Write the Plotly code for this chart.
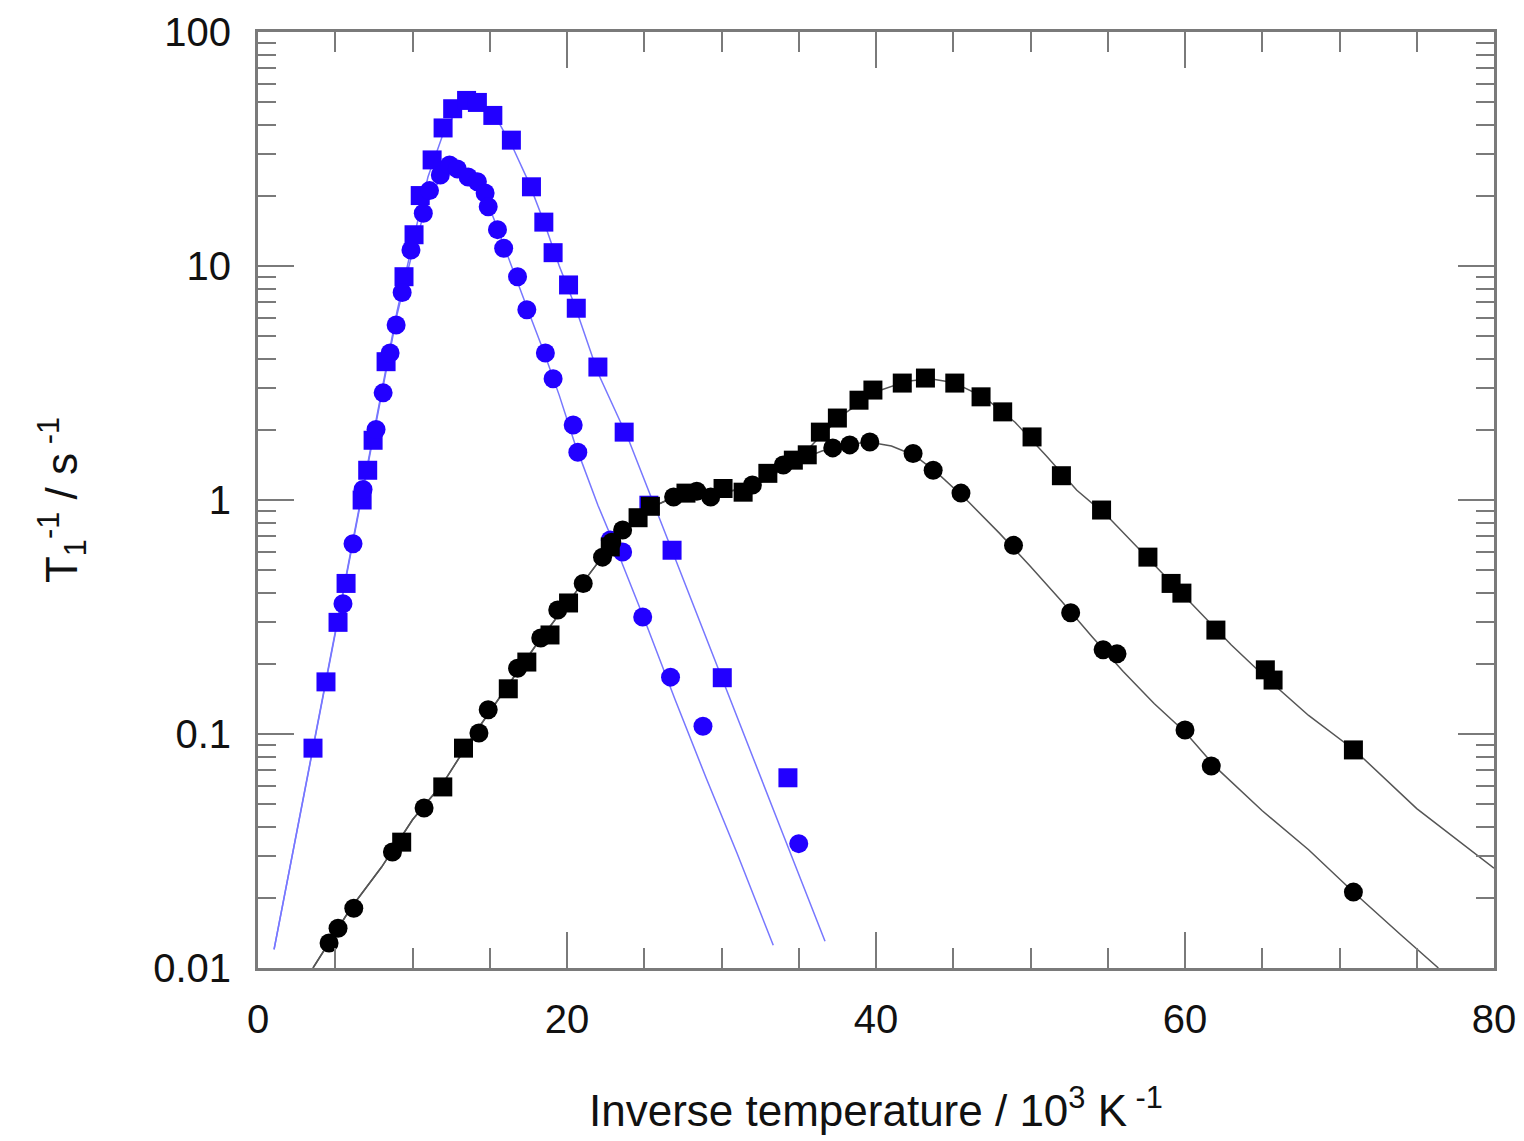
import plotly.graph_objects as go

# ---- data ----
blue_sq_x = [3.56, 4.4, 5.18, 5.7, 6.74, 7.1, 7.45, 8.29, 9.45, 10.1, 10.5, 11.27, 11.98, 12.6, 13.5, 14.2,
             15.2, 16.4, 17.7, 18.5, 19.1, 20.1, 20.6, 22.0, 23.7, 25.3, 26.8, 30.05, 34.3]
blue_sq_y = [0.087, 0.167, 0.30, 0.44, 1.0, 1.34, 1.8, 3.9, 9.0, 13.6, 20, 28.4, 38.9, 47, 51, 50,
             44, 34.5, 21.8, 15.4, 11.4, 8.3, 6.6, 3.7, 1.95, 0.95, 0.61, 0.174, 0.065]

blue_ci_x = [5.5, 6.15, 6.8, 7.64, 8.1, 8.55, 8.94, 9.33, 9.9, 10.7, 11.1, 11.8, 12.4, 12.9, 13.6, 14.2,
             14.7, 14.9, 15.5, 15.9, 16.8, 17.4, 18.6, 19.1, 20.4, 20.7, 22.8, 23.6, 24.9, 26.7, 28.8, 35.0]
blue_ci_y = [0.36, 0.65, 1.11, 2.0, 2.87, 4.25, 5.6, 7.7, 11.7, 16.8, 21, 24.5, 27, 26, 24, 22.9,
             20.5, 17.9, 14.3, 11.9, 9.0, 6.5, 4.25, 3.3, 2.09, 1.6, 0.675, 0.60, 0.316, 0.175, 0.108, 0.034]

black_sq_x = [9.3, 11.96, 13.3, 16.2, 17.4, 18.9, 20.1, 22.8, 24.6, 25.4, 27.7, 30.1, 31.4, 33.0, 34.65,
              35.55, 36.4, 37.5, 38.9, 39.8, 41.7, 43.2, 45.1, 46.8, 48.2, 50.1, 52.0, 54.6, 57.6, 59.1,
              59.8, 62.0, 65.2, 65.7, 70.9]
black_sq_y = [0.0345, 0.0594, 0.087, 0.156, 0.203, 0.265, 0.363, 0.63, 0.84, 0.94, 1.07, 1.12, 1.08, 1.30, 1.48,
              1.56, 1.95, 2.24, 2.67, 2.95, 3.16, 3.32, 3.16, 2.76, 2.38, 1.86, 1.27, 0.906, 0.57, 0.44,
              0.40, 0.278, 0.188, 0.17, 0.0855]

black_ci_x = [4.6, 5.18, 6.2, 8.7, 10.75, 14.3, 14.9, 16.8, 18.3, 19.4, 21.05, 22.3, 22.9, 23.6, 26.9, 28.4,
              29.3, 32.0, 34.0, 37.2, 38.3, 39.6, 42.4, 43.7, 45.5, 48.9, 52.6, 54.7, 55.6, 60.0, 61.7, 70.9]
black_ci_y = [0.0128, 0.0148, 0.018, 0.0313, 0.0483, 0.101, 0.127, 0.191, 0.257, 0.339, 0.44, 0.57, 0.66, 0.745,
              1.03, 1.09, 1.03, 1.16, 1.41, 1.67, 1.72, 1.77, 1.58, 1.34, 1.07, 0.64, 0.33, 0.229, 0.22,
              0.104, 0.073, 0.0211]

# fitted curves
fit_blue_ci_x = [1.04, 2, 3, 4, 5, 6, 7, 8, 9, 10, 11, 12, 12.8, 13.5, 14.5, 15.5, 16.5, 17.5, 18.5, 19.5,
                 20.5, 22, 23.5, 25, 27, 29, 31, 33.35]
fit_blue_ci_y = [0.012, 0.0255, 0.056, 0.123, 0.27, 0.59, 1.3, 2.9, 6.2, 11.5, 19, 25, 27, 26, 21.5, 14.5,
                 9.6, 6.4, 4.3, 2.8, 1.75, 0.95, 0.55, 0.31, 0.14, 0.065, 0.031, 0.0125]

fit_blue_sq_x = [1.04, 2, 3, 4, 5, 6, 7, 8, 9, 10, 11, 12, 13, 13.8, 14.5, 15.5, 16.5, 17.5, 18.5, 19.5,
                 20.5, 22, 24, 26, 28, 30, 32, 34, 36.7]
fit_blue_sq_y = [0.012, 0.0255, 0.056, 0.123, 0.27, 0.59, 1.3, 2.9, 6.4, 12.5, 24, 37, 48, 52, 50, 42,
                 32, 23, 15.5, 10, 6.8, 3.5, 1.8, 0.83, 0.38, 0.175, 0.08, 0.037, 0.013]

fit_black_sq_x = [3.56, 6, 8, 10, 12, 14, 16, 18, 20, 22, 23.5, 25, 26.5, 28, 30, 32, 33.5, 35, 36.5, 38,
                  40, 42, 43.5, 45, 47, 49, 51, 53, 55, 57, 59, 61, 63, 65, 68, 71, 75, 80]
fit_black_sq_y = [0.01, 0.018, 0.027, 0.043, 0.062, 0.1, 0.155, 0.24, 0.36, 0.54, 0.72, 0.9, 1.0, 1.05,
                  1.08, 1.13, 1.3, 1.5, 1.9, 2.35, 2.9, 3.22, 3.3, 3.18, 2.75, 2.15, 1.55, 1.1, 0.85, 0.62,
                  0.45, 0.33, 0.24, 0.18, 0.12, 0.085, 0.048, 0.0267]

fit_black_ci_x = [3.56, 6, 8, 10, 12, 14, 16, 18, 20, 22, 23.5, 25, 26.5, 28, 30, 32, 33.5, 35, 36.5, 38,
                  39.5, 41, 42.5, 44, 46, 48, 50, 52, 54, 56, 58, 60, 62, 65, 68, 71, 74, 76.4]
fit_black_ci_y = [0.01, 0.018, 0.027, 0.043, 0.062, 0.1, 0.155, 0.24, 0.36, 0.54, 0.72, 0.9, 1.0, 1.05,
                  1.08, 1.13, 1.3, 1.48, 1.62, 1.72, 1.77, 1.7, 1.55, 1.3, 0.98, 0.72, 0.52, 0.37, 0.26,
                  0.185, 0.135, 0.102, 0.072, 0.047, 0.032, 0.0208, 0.0138, 0.01]

x_tickvals = [0, 20, 40, 60, 80]
y_tickvals = [0.01, 0.1, 1, 10, 100]
y_ticktext = ["0.01", "0.1", "1", "10", "100"]

BLUE = "#2200ff"
BLUE_LINE = "#7777ff"
BLACK = "#000000"
GREY_LINE = "#555555"
AX = "#7a7a7a"
FONT = "Liberation Sans, Arial, sans-serif"

fig = go.Figure()
for fx, fy, c in [(fit_blue_ci_x, fit_blue_ci_y, BLUE_LINE), (fit_blue_sq_x, fit_blue_sq_y, BLUE_LINE),
                  (fit_black_sq_x, fit_black_sq_y, GREY_LINE), (fit_black_ci_x, fit_black_ci_y, GREY_LINE)]:
    fig.add_trace(go.Scatter(x=fx, y=fy, mode="lines", line=dict(color=c, width=1.5), showlegend=False,
                             hoverinfo="skip"))

for mx, my, c, sym in [(blue_sq_x, blue_sq_y, BLUE, "square"), (blue_ci_x, blue_ci_y, BLUE, "circle"),
                       (black_sq_x, black_sq_y, BLACK, "square"), (black_ci_x, black_ci_y, BLACK, "circle")]:
    fig.add_trace(go.Scatter(x=mx, y=my, mode="markers", showlegend=False,
                             marker=dict(symbol=sym, color=c, size=19 if sym == "square" else 19,
                                         line=dict(width=0))))

fig.update_layout(
    width=1524, height=1141,
    margin=dict(l=258, r=30, t=32, b=173, autoexpand=False),
    paper_bgcolor="white", plot_bgcolor="white",
    font=dict(family=FONT, color="#111111", size=40),
    showlegend=False,
)

fig.update_xaxes(
    range=[0, 80], showgrid=False, zeroline=False,
    showline=True, linecolor=AX, linewidth=3, mirror="ticks",
    ticks="inside", ticklen=36, tickwidth=2, tickcolor=AX,
    tickvals=x_tickvals, ticklabelstandoff=14,
    tickfont=dict(size=40, family=FONT),
    minor=dict(ticks="inside", ticklen=20, tickwidth=2, tickcolor=AX, dtick=5, showgrid=False),
    title=dict(text="Inverse temperature / 10<sup>3</sup> K<sup> -1</sup>", font=dict(size=44, family=FONT),
               standoff=56),
)

fig.update_yaxes(
    type="log", range=[-2, 2], showgrid=False, zeroline=False,
    showline=True, linecolor=AX, linewidth=3, mirror="ticks",
    ticks="inside", ticklen=36, tickwidth=2, tickcolor=AX,
    tickvals=y_tickvals, ticktext=y_ticktext, ticklabelstandoff=16,
    tickfont=dict(size=40, family=FONT),
    minor=dict(ticks="inside", ticklen=18, tickwidth=2, tickcolor=AX, dtick="D1", showgrid=False),
    title=dict(text="T<sub>1</sub><sup>-1</sup> / s<sup> -1</sup>", font=dict(size=44, family=FONT),
               standoff=62),
)

fig.write_html("out.html")
